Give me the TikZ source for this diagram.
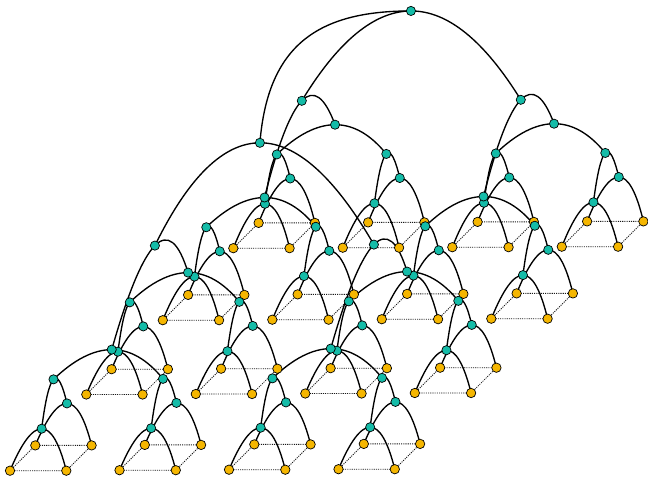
\documentclass[tikz,border=0pt]{standalone}
\usetikzlibrary{calc}
\definecolor{tealc}{RGB}{20,188,168}
\definecolor{leafc}{RGB}{245,182,0}
\pgfdeclarelayer{latt}
\pgfdeclarelayer{arcs}
\pgfsetlayers{latt,arcs,main}
\tikzset{
  tnode/.style={circle,fill=tealc,draw=black,line width=0.7pt,inner sep=0pt,minimum size=9.2pt},
  lnode/.style={circle,fill=leafc,draw=black,line width=0.7pt,inner sep=0pt,minimum size=9.4pt},
  treeline/.style={line width=1.35pt,black},
  lattline/.style={line width=0.85pt,black!90,dash pattern=on 1.1pt off 1.1pt},
}
\newcommand{\treearc}[3]{%
  \draw[treeline] (#2.center)
    .. controls ($0.5*(#2)+0.6667*(#1)-0.1667*(#3)$) and ($(#1)+0.1667*(#2)-0.1667*(#3)$) .. (#1.center)
    .. controls ($(#1)+0.1667*(#3)-0.1667*(#2)$) and ($0.5*(#3)+0.6667*(#1)-0.1667*(#2)$) .. (#3.center);%
}
\begin{document}
\begin{tikzpicture}[x=1pt,y=-1pt]
\useasboundingbox (0,0) rectangle (648,479);
% leaves
\foreach \r/\rx/\ry in {0/10/470.7,1/86.3/394.5,2/162.8/320.2,3/233.3/248.2}{
  \foreach \c in {0,1,2,3}{
    \pgfmathsetmacro\ox{\rx+109.5*\c}
    \pgfmathsetmacro\oy{\ry-0.5*\c}
    \node[lnode] (FL-\r-\c) at (\ox,\oy) {};
    \node[lnode] (FR-\r-\c) at (\ox+56.3,\oy) {};
    \node[lnode] (BL-\r-\c) at (\ox+25.3,\oy-25.3) {};
    \node[lnode] (BR-\r-\c) at (\ox+81.6,\oy-25.3) {};
  }
}
% unit tensors
\foreach \r/\rx/\ry/\h in {0/10/470.7/42,1/86.3/394.5/42.8,2/162.8/320.2/43.6,3/233.3/248.2/44.4}{
  \foreach \c in {0,1,2,3}{
    \pgfmathsetmacro\ox{\rx+109.5*\c}
    \pgfmathsetmacro\oy{\ry-0.5*\c}
    \node[tnode] (A-\r-\c) at (\ox+31.65,\oy-\h) {};
    \node[tnode] (B-\r-\c) at (\ox+56.95,\oy-25.3-\h) {};
    \node[tnode] (C-\r-\c) at (\ox+43.5,\oy-\h-49.35) {};
  }
}
% level 3
\foreach \r in {0,1,2,3}{
  \foreach \k in {0,1}{
    \pgfmathtruncatemacro\ca{2*\k}
    \pgfmathtruncatemacro\cb{2*\k+1}
    \node[tnode] (D-\r-\k) at ($(C-\r-\ca)!0.5!(C-\r-\cb)+(3.5,-29.5)$) {};
  }
}
% level 4
\foreach \q/\ex/\ey in {0/5/-65.5,1/2/-60.3}{
  \foreach \k in {0,1}{
    \pgfmathtruncatemacro\ra{2*\q}
    \pgfmathtruncatemacro\rb{2*\q+1}
    \node[tnode] (E-\q-\k) at ($(D-\ra-\k)!0.5!(D-\rb-\k)+(\ex,\ey)$) {};
  }
}
\node[tnode] (F0) at ($(E-0-0)!0.5!(E-0-1)+(-4.5,-102.3)$) {};
\node[tnode] (T) at ($(E-1-0)!0.5!(E-1-1)+(-0.35,-89.35)$) {};
% lattice
\begin{pgfonlayer}{latt}
\foreach \r in {0,1,2,3}{
  \foreach \c in {0,1,2,3}{
    \draw[lattline] (FL-\r-\c.center) -- (FR-\r-\c.center) -- (BR-\r-\c.center) -- (BL-\r-\c.center) -- cycle;
  }
}
\end{pgfonlayer}
% tree
\begin{pgfonlayer}{arcs}
\foreach \r in {0,1,2,3}{
  \foreach \c in {0,1,2,3}{
    \treearc{A-\r-\c}{FL-\r-\c}{FR-\r-\c}
    \treearc{B-\r-\c}{BL-\r-\c}{BR-\r-\c}
    \treearc{C-\r-\c}{A-\r-\c}{B-\r-\c}
  }
}
\foreach \r in {0,1,2,3}{
  \foreach \k in {0,1}{
    \pgfmathtruncatemacro\ca{2*\k}
    \pgfmathtruncatemacro\cb{2*\k+1}
    \treearc{D-\r-\k}{C-\r-\ca}{C-\r-\cb}
  }
}
\foreach \q in {0,1}{
  \foreach \k in {0,1}{
    \pgfmathtruncatemacro\ra{2*\q}
    \pgfmathtruncatemacro\rb{2*\q+1}
    \treearc{E-\q-\k}{D-\ra-\k}{D-\rb-\k}
  }
}
\treearc{F0}{E-0-0}{E-0-1}
\treearc{T}{E-1-0}{E-1-1}
\draw[treeline] (F0.center) .. controls ($(F0)+(8,-97.7)$) and ($(T)+(-93,0)$) .. (T.center);
\end{pgfonlayer}
\end{tikzpicture}
\end{document}
